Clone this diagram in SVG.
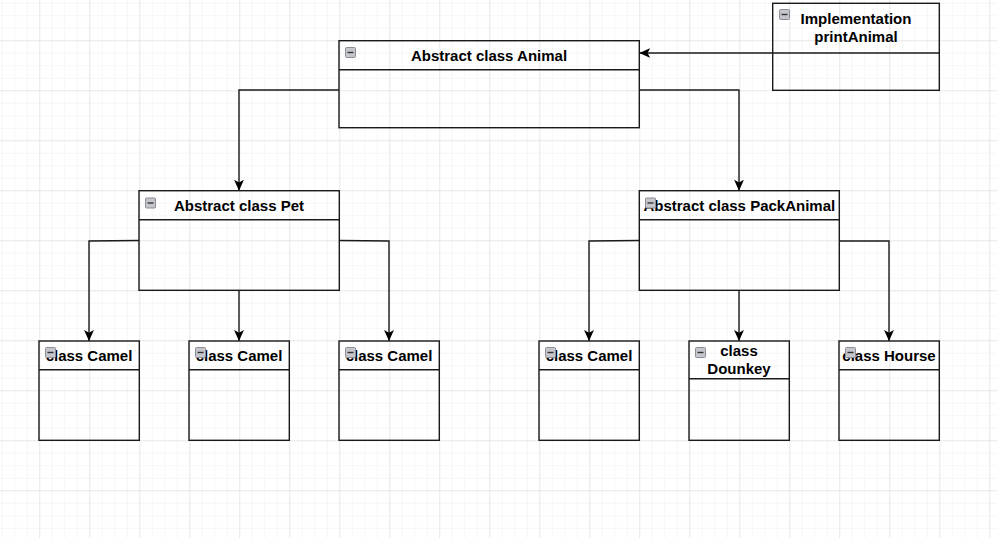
<svg xmlns="http://www.w3.org/2000/svg" width="997" height="538" viewBox="0 0 997 538">
<style>
.box{fill:none;stroke:#1a1a1a;stroke-width:1.4}
.t{font-family:"Liberation Sans",Arial,sans-serif;font-weight:bold;font-size:15px;fill:#000;text-anchor:middle}
.edge{fill:none;stroke:#1a1a1a;stroke-width:1.4}
.ic{fill:#c4c6cc;stroke:#8b8d96;stroke-width:1}
.icm{stroke:#333;stroke-width:1.4}
</style>
<defs>
<pattern id="minor" patternUnits="userSpaceOnUse" x="1.8" y="2.8" width="12.5" height="12.5">
<path d="M0,0 V12.5 M0,0 H12.5" fill="none" stroke="#eeeeee" stroke-width="1"/>
</pattern>
<pattern id="major" patternUnits="userSpaceOnUse" x="39.3" y="40.3" width="50" height="50">
<path d="M0,0 V50 M0,0 H50" fill="none" stroke="#d9d9d9" stroke-width="1"/>
</pattern>
<marker id="arr" viewBox="0 0 10 10" refX="10" refY="5" markerWidth="11" markerHeight="11" markerUnits="userSpaceOnUse" orient="auto">
<path d="M0,0.5 L10,5 L0,9.5 L2.5,5 Z" fill="#000"/>
</marker>
<g id="icon"><rect class="ic" x="0.5" y="0.5" width="10" height="10" rx="1"/><line class="icm" x1="2.5" y1="5.5" x2="8.5" y2="5.5"/></g>
</defs>
<rect width="997" height="538" fill="#ffffff"/>
<rect width="997" height="538" fill="url(#minor)"/>
<rect width="997" height="538" fill="url(#major)"/>

<g id="connectors">
<path class="edge" marker-end="url(#arr)" d="M772.7,53 L639.3,53"/>
<path class="edge" marker-end="url(#arr)" d="M339,90 L239,90 L239,190.7"/>
<path class="edge" marker-end="url(#arr)" d="M639.3,90 L739,90 L739,190.7"/>
<path class="edge" marker-end="url(#arr)" d="M139,240.5 L89,241 L89,341"/>
<path class="edge" marker-end="url(#arr)" d="M239,290.3 L239,341"/>
<path class="edge" marker-end="url(#arr)" d="M339.3,240.5 L389,241 L389,341"/>
<path class="edge" marker-end="url(#arr)" d="M639.3,240.5 L589,241 L589,341"/>
<path class="edge" marker-end="url(#arr)" d="M739,290.3 L739,341"/>
<path class="edge" marker-end="url(#arr)" d="M839.3,241 L889,241 L889,341"/>
</g>

<g id="animal">
<rect class="box" x="339" y="40.7" width="300.3" height="87"/>
<line class="box" x1="339" y1="69.7" x2="639.3" y2="69.7"/>
<text class="t" x="489" y="61">Abstract class Animal</text>
<use href="#icon" x="345" y="47"/>
</g>

<g id="implementation">
<rect class="box" x="772.7" y="3.3" width="166.6" height="87"/>
<line class="box" x1="772.7" y1="53" x2="939.3" y2="53"/>
<text class="t" x="856" y="24.3">Implementation</text>
<text class="t" x="856" y="41.5">printAnimal</text>
<use href="#icon" x="779" y="9"/>
</g>

<g id="pet">
<rect class="box" x="139" y="190.7" width="200.3" height="99.6"/>
<line class="box" x1="139" y1="219.7" x2="339.3" y2="219.7"/>
<text class="t" x="239" y="211">Abstract class Pet</text>
<use href="#icon" x="145" y="197.5"/>
</g>

<g id="packanimal">
<rect class="box" x="639.3" y="190.7" width="200" height="99.6"/>
<line class="box" x1="639.3" y1="219.7" x2="839.3" y2="219.7"/>
<text class="t" x="739.3" y="211">Abstract class PackAnimal</text>
<use href="#icon" x="645" y="197.5"/>
</g>

<g id="camel1">
<rect class="box" x="39" y="341" width="100.3" height="99.3"/>
<line class="box" x1="39" y1="369.7" x2="139.3" y2="369.7"/>
<text class="t" x="89" y="360.5">class Camel</text>
<use href="#icon" x="45" y="347"/>
</g>

<g id="camel2">
<rect class="box" x="189" y="341" width="100.3" height="99.3"/>
<line class="box" x1="189" y1="369.7" x2="289.3" y2="369.7"/>
<text class="t" x="239" y="360.5">class Camel</text>
<use href="#icon" x="195" y="347"/>
</g>

<g id="camel3">
<rect class="box" x="339" y="341" width="100.3" height="99.3"/>
<line class="box" x1="339" y1="369.7" x2="439.3" y2="369.7"/>
<text class="t" x="389" y="360.5">class Camel</text>
<use href="#icon" x="345" y="347"/>
</g>

<g id="camel4">
<rect class="box" x="539" y="341" width="100.3" height="99.3"/>
<line class="box" x1="539" y1="369.7" x2="639.3" y2="369.7"/>
<text class="t" x="589" y="360.5">class Camel</text>
<use href="#icon" x="545" y="347"/>
</g>

<g id="dounkey">
<rect class="box" x="689" y="341" width="100.3" height="99.3"/>
<line class="box" x1="689" y1="378.7" x2="789.3" y2="378.7"/>
<text class="t" x="739" y="356">class</text>
<text class="t" x="739" y="374">Dounkey</text>
<use href="#icon" x="695" y="347"/>
</g>

<g id="hourse">
<rect class="box" x="839" y="341" width="100.3" height="99.3"/>
<line class="box" x1="839" y1="369.7" x2="939.3" y2="369.7"/>
<text class="t" x="889" y="360.5">class Hourse</text>
<use href="#icon" x="845" y="347"/>
</g>
</svg>
